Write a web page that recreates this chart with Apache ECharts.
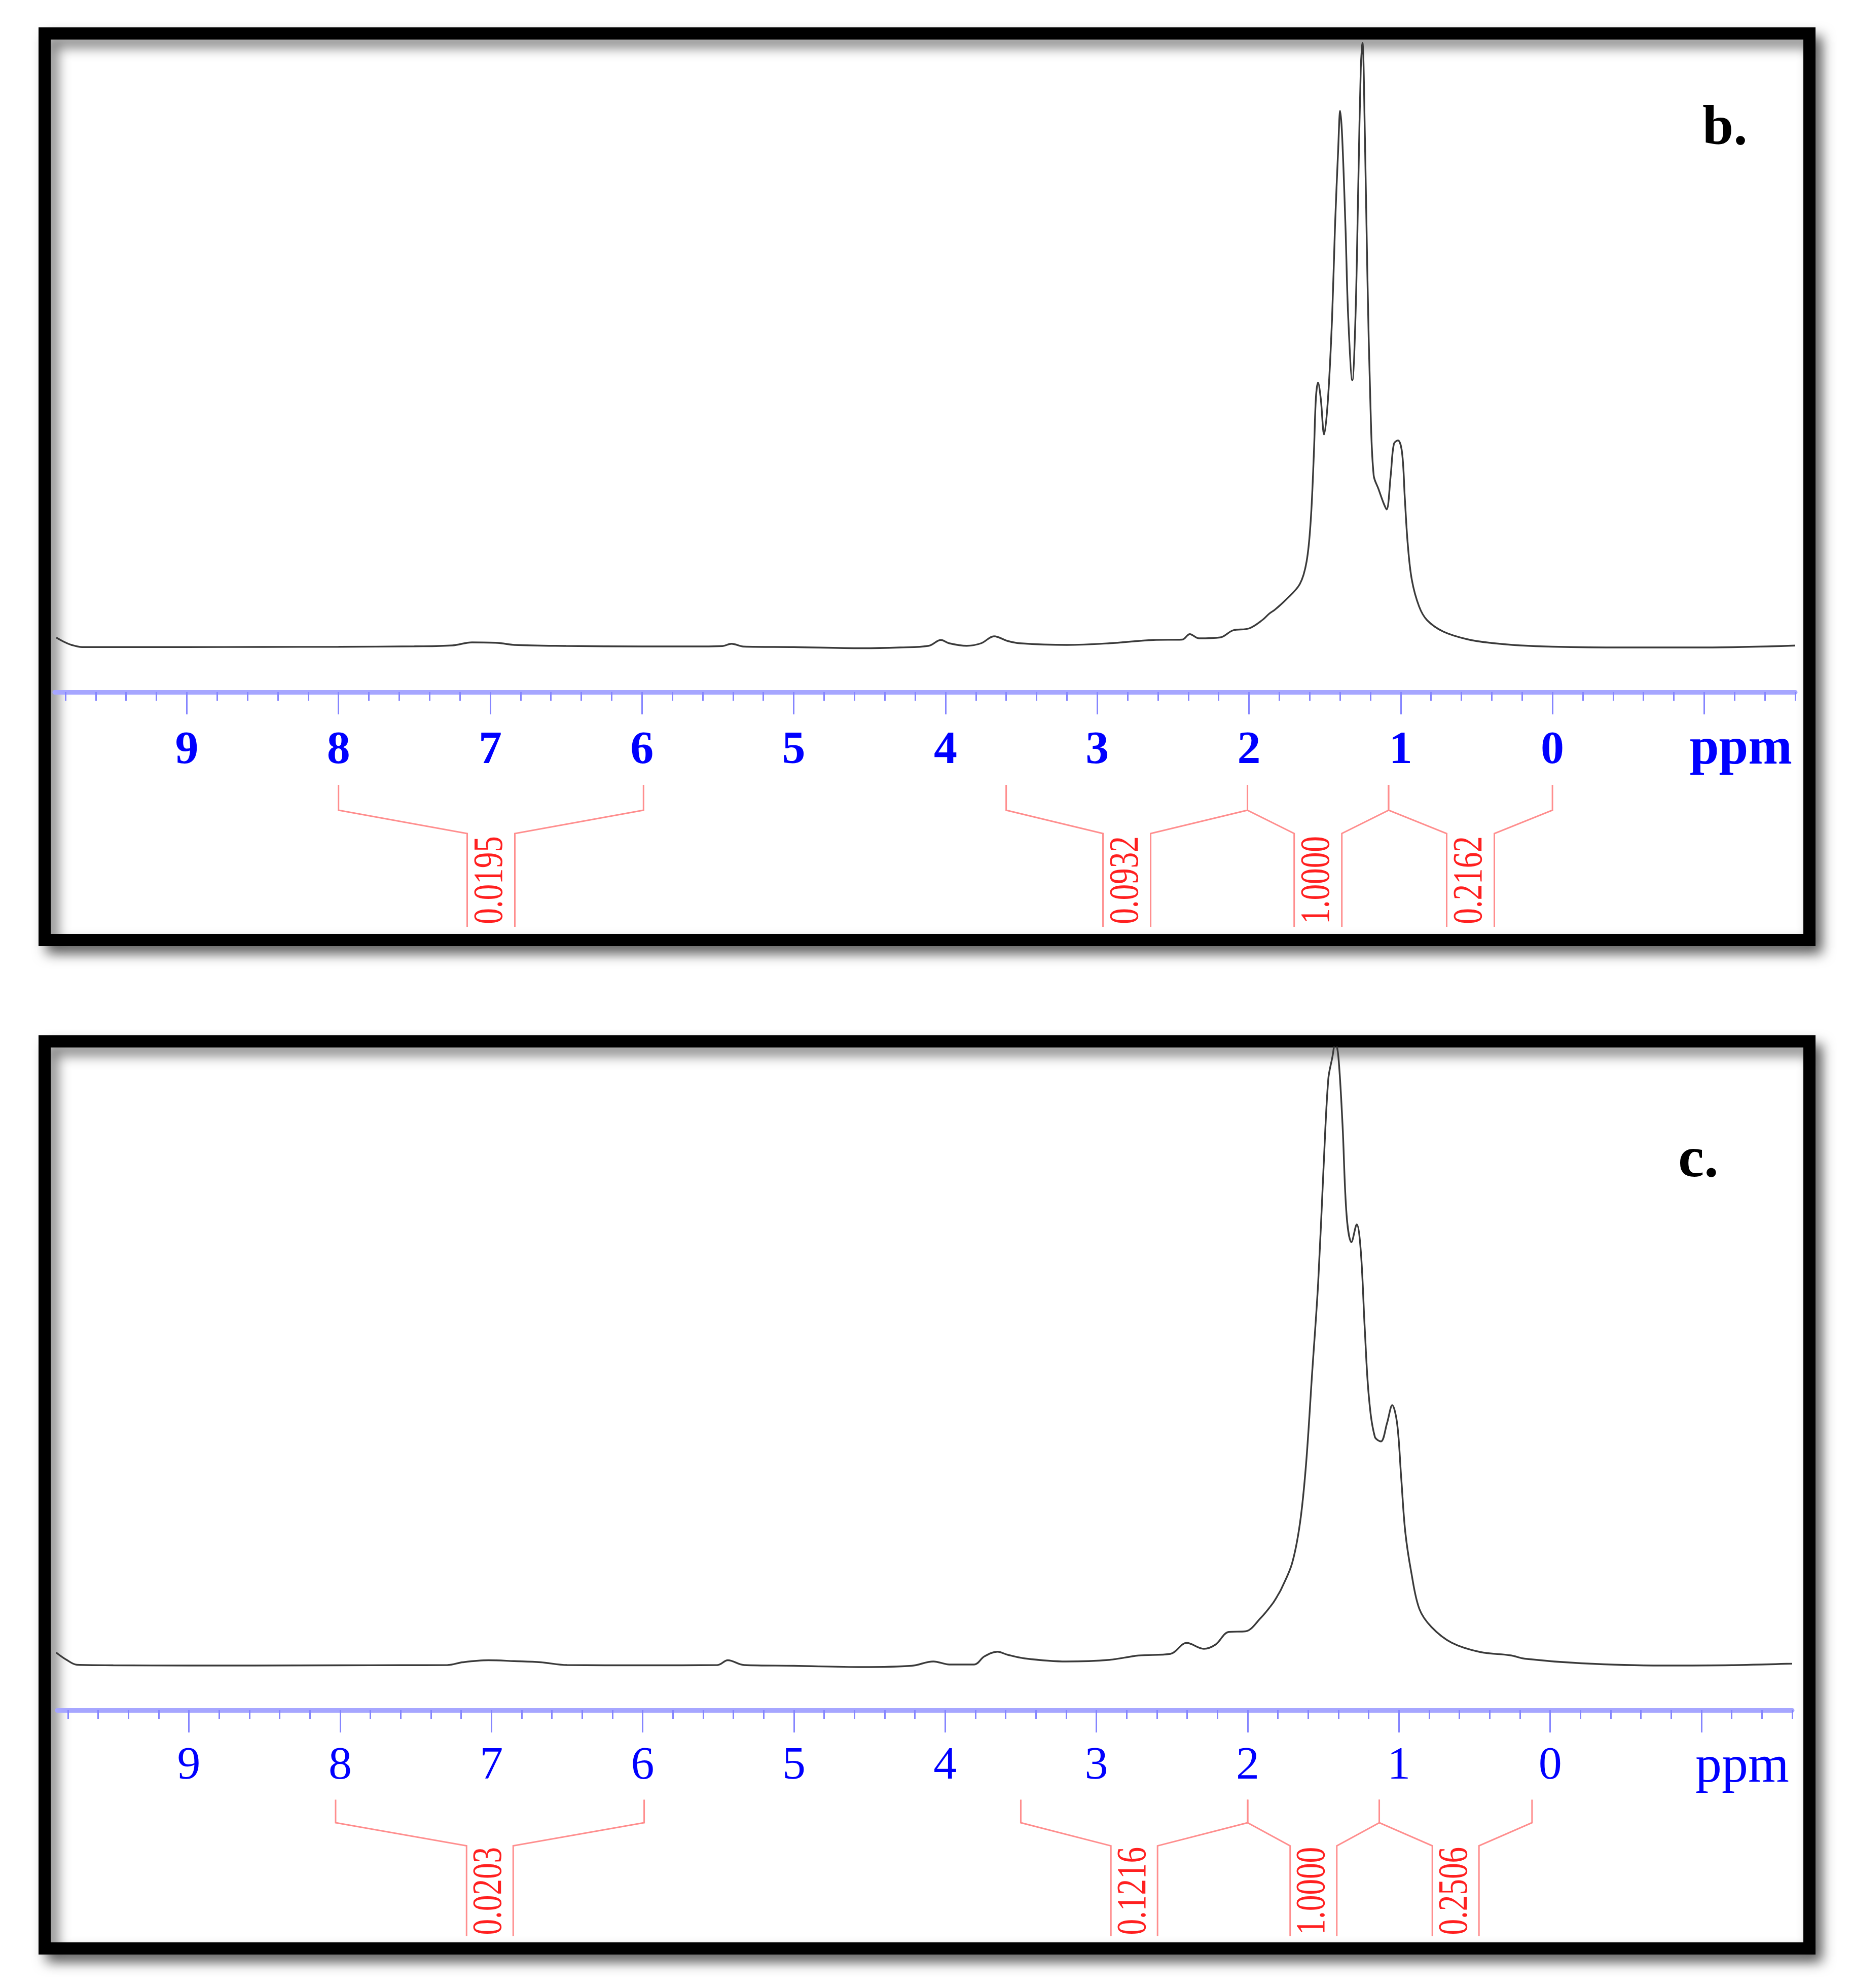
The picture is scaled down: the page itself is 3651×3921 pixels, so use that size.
<!DOCTYPE html>
<html>
<head>
<meta charset="utf-8">
<style>
  html, body { margin: 0; padding: 0; background: #ffffff; }
  #chart { width: 3651px; height: 3921px; }
</style>
<script src="https://cdn.jsdelivr.net/npm/echarts@6/dist/echarts.min.js"></script>
</head>
<body>
<div id="chart"></div>
<script>
// ---------- axis data ----------
const X_MIN = -1.6;
const X_MAX = 9.87;
const tickLabels = [9, 8, 7, 6, 5, 4, 3, 2, 1, 0];
const majorTicks = [9, 8, 7, 6, 5, 4, 3, 2, 1, 0, -1];
const minorTicks = [9.8, 9.6, 9.4, 9.2, 8.8, 8.6, 8.4, 8.2, 7.8, 7.6, 7.4, 7.2,
  6.8, 6.6, 6.4, 6.2, 5.8, 5.6, 5.4, 5.2, 4.8, 4.6, 4.4, 4.2, 3.8, 3.6, 3.4, 3.2,
  2.8, 2.6, 2.4, 2.2, 1.8, 1.6, 1.4, 1.2, 0.8, 0.6, 0.4, 0.2,
  -0.2, -0.4, -0.6, -0.8, -1.2, -1.4, -1.6];

// ---------- spectrum b ----------
const specB_ppm = [9.86, 9.81, 9.76, 9.69, 9.5, 9.0, 8.5, 8.0, 7.5, 7.25, 7.12, 6.95, 6.84, 6.5, 6.0, 5.6,
  5.47, 5.41, 5.33, 5.0, 4.55, 4.3, 4.11, 4.03, 3.976, 3.86, 3.765, 3.68, 3.59, 3.51, 3.2, 2.92,
  2.63, 2.44, 2.39, 2.33, 2.19, 2.105, 2.0, 1.91, 1.865, 1.83, 1.758, 1.665, 1.62, 1.593, 1.572,
  1.559, 1.545, 1.527, 1.505, 1.479, 1.452, 1.433, 1.412, 1.399, 1.386, 1.364, 1.346, 1.319,
  1.298, 1.279, 1.263, 1.252, 1.236, 1.22, 1.199, 1.178, 1.146, 1.114, 1.093, 1.066, 1.045,
  1.018, 0.991, 0.973, 0.954, 0.927, 0.879, 0.826, 0.719, 0.559, 0.4, 0.212, 0.0, -0.456,
  -1.0, -1.6];
const specB_int = [7.8, 4.5, 2.0, 0.3, 0.3, 0.3, 0.4, 0.5, 0.9, 1.6, 4.0, 3.6, 2.0, 1.2, 0.8, 0.8,
  1.1, 2.9, 0.7, 0.3, -0.6, 0.0, 1.3, 5.9, 3.3, 1.3, 3.3, 8.8, 5.1, 3.3, 2.0, 3.3,
  5.9, 6.2, 10.5, 7.2, 7.9, 13.5, 15.0, 21.8, 26.8, 29.7, 37.5, 50.0, 67.9, 100.0, 153.6,
  196.5, 209.0, 196.5, 168.0, 196.5, 260.8, 332.0, 393.0, 423.3, 403.6, 332.0, 260.8, 210.8,
  260.8, 368.0, 457.2, 476.9, 403.6, 296.5, 189.3, 135.7, 124.9, 114.2, 108.9, 135.7, 160.6,
  163.4, 153.6, 118.0, 82.2, 53.6, 32.4, 21.5, 12.5, 6.4, 3.5, 1.6, 0.6, 0.0,
  0.0, 1.5];

// ---------- spectrum c ----------
const specC_ppm = [9.878, 9.81, 9.74, 9.5, 9.0, 8.57, 8.0, 7.6, 7.29, 7.19, 7.02, 6.85, 6.675, 6.5, 6.0,
  5.505, 5.437, 5.33, 5.0, 4.549, 4.222, 4.078, 3.972, 3.808, 3.741, 3.654, 3.587, 3.473, 3.201,
  2.913, 2.722, 2.511, 2.404, 2.29, 2.213, 2.125, 2.015, 1.914, 1.837, 1.801, 1.777, 1.707,
  1.654, 1.614, 1.574, 1.534, 1.499, 1.467, 1.44, 1.42, 1.4, 1.373, 1.346, 1.314, 1.279, 1.252,
  1.226, 1.199, 1.159, 1.119, 1.079, 1.044, 1.012, 0.985, 0.958, 0.918, 0.865, 0.785, 0.651,
  0.464, 0.26, 0.169, -0.205, -0.74, -1.2, -1.6];
const specC_int = [10.3, 4.6, 0.6, 0.2, 0.0, 0.0, 0.2, 0.3, 0.4, 2.6, 4.2, 3.5, 2.6, 0.4, 0.2,
  0.4, 4.2, 0.4, -0.2, -1.2, -0.2, 3.2, 0.8, 0.8, 7.2, 10.9, 8.5, 5.6, 3.2,
  4.5, 7.9, 9.2, 17.9, 13.2, 16.5, 26.5, 27.0, 37.5, 48.6, 55.4, 60.6, 80.4,
  112.5, 158.9, 230.4, 301.8, 391.0, 462.6, 480.0, 492.0, 480.0, 427.0, 355.4, 334.0, 348.0, 326.8,
  266.0, 212.5, 180.4, 176.8, 191.1, 205.4, 191.1, 148.3, 105.4, 73.3, 44.7, 30.4, 18.0,
  10.7, 8.0, 5.4, 1.8, 0.0, 0.3, 1.5];

// ---------- integrations ----------
const integB_from = [8.0, 3.6, 2.01, 1.08];
const integB_to = [5.99, 2.01, 1.08, 0.0];
const integB_labels = ['0.0195', '0.0932', '1.0000', '0.2162'];
const integC_from = [8.03, 3.5, 2.0, 1.13];
const integC_to = [5.99, 2.0, 1.13, 0.12];
const integC_labels = ['0.0203', '0.1216', '1.0000', '0.2506'];

// ---------- helpers ----------
const SERIF = '"Liberation Serif", "Times New Roman", serif';
const zip = (a, b) => a.map((v, i) => [v, b[i]]);
const integData = (from, to) => from.map((f, i) => [f, to[i], i]);

function mainAxis(gridIndex, bold, labelMargin, namePad) {
  return {
    type: 'value', gridIndex: gridIndex, inverse: true, min: X_MIN, max: X_MAX, position: 'bottom',
    name: 'ppm', nameLocation: 'start', nameGap: -6,
    nameTextStyle: {
      color: '#0000ff', fontFamily: SERIF, fontSize: 104, fontWeight: bold ? 'bold' : 'normal',
      align: 'right', verticalAlign: 'top', padding: [namePad, 0, 0, 0]
    },
    axisLine: { show: true, onZero: false, lineStyle: { color: '#a6a6ff', width: 9 } },
    axisTick: { show: true, customValues: majorTicks, length: 44, lineStyle: { color: '#8585ff', width: 3 } },
    axisLabel: {
      show: true, customValues: tickLabels, margin: labelMargin, color: '#0000ff',
      fontFamily: SERIF, fontSize: 92, fontWeight: bold ? 'bold' : 'normal', hideOverlap: false
    },
    splitLine: { show: false }, minorTick: { show: false }
  };
}
function minorAxis(gridIndex) {
  return {
    type: 'value', gridIndex: gridIndex, inverse: true, min: X_MIN, max: X_MAX, position: 'bottom',
    axisLine: { show: false, onZero: false },
    axisTick: { show: true, customValues: minorTicks, length: 17, lineStyle: { color: '#8585ff', width: 3 } },
    axisLabel: { show: false }, splitLine: { show: false }
  };
}
function bracketRenderer(geo, labels) {
  return function (params, api) {
    const idx = api.value(2);
    const xa = api.coord([api.value(0), 0])[0];
    const xb = api.coord([api.value(1), 0])[0];
    const cs = params.coordSys;
    const base = cs.y + cs.height;
    const xm = (xa + xb) / 2;
    const yt = base + geo.top, yb = base + geo.bend, yi = base + geo.inner, ye = base + geo.bottom;
    const ls = { stroke: '#ff8e8e', lineWidth: 3, fill: null };
    return {
      type: 'group',
      children: [
        { type: 'polyline', shape: { points: [[xa, yt], [xa, yb], [xm - geo.half, yi], [xm - geo.half, ye]] }, style: ls },
        { type: 'polyline', shape: { points: [[xb, yt], [xb, yb], [xm + geo.half, yi], [xm + geo.half, ye]] }, style: ls },
        {
          type: 'text', x: xm, y: (yi + ye) / 2, rotation: Math.PI / 2, scaleX: 0.77, scaleY: 1,
          style: { text: labels[idx], fill: '#ff2020', font: 'normal 82px ' + SERIF, align: 'center', verticalAlign: 'middle' }
        }
      ]
    };
  };
}

const geoB = { top: 183, bend: 233, inner: 279, bottom: 463, half: 47 };
const geoC = { top: 176.5, bend: 222, inner: 267.6, bottom: 445.8, half: 46 };

const lineStyle = { color: '#3a3a3a', width: 3.4 };

const option = {
  animation: false,
  backgroundColor: '#ffffff',
  graphic: [
    {
      type: 'rect', z: -10, shape: { x: 88, y: 66, width: 3481, height: 1788 },
      style: { fill: '#ffffff', stroke: '#000000', lineWidth: 24, shadowBlur: 24, shadowColor: 'rgba(0,0,0,0.5)', shadowOffsetX: 14, shadowOffsetY: 16 }
    },
    {
      type: 'rect', z: -10, shape: { x: 88, y: 2054, width: 3481, height: 1789 },
      style: { fill: '#ffffff', stroke: '#000000', lineWidth: 24, shadowBlur: 24, shadowColor: 'rgba(0,0,0,0.5)', shadowOffsetX: 14, shadowOffsetY: 16 }
    },
    {
      type: 'text', x: 3358, y: 256, z: 10,
      style: { text: 'b.', fill: '#000000', font: 'bold 110px ' + SERIF, align: 'left', verticalAlign: 'middle' }
    },
    {
      type: 'text', x: 3310, y: 2290, z: 10,
      style: { text: 'c.', fill: '#000000', font: 'bold 115px ' + SERIF, align: 'left', verticalAlign: 'middle' }
    }
  ],
  grid: [
    { left: 108, top: 79, width: 3433, height: 1286 },
    { left: 113, top: 2066, width: 3422, height: 1307 }
  ],
  xAxis: [
    mainAxis(0, true, 70, 62),
    minorAxis(0),
    mainAxis(1, false, 65, 62),
    minorAxis(1)
  ],
  yAxis: [
    { type: 'value', gridIndex: 0, min: -35.2, max: 479.2, show: false },
    { type: 'value', gridIndex: 1, min: -35.2, max: 487.6, show: false }
  ],
  series: [
    {
      name: 'b', type: 'line', xAxisIndex: 0, yAxisIndex: 0, data: zip(specB_ppm, specB_int),
      showSymbol: false, smooth: 0.35, lineStyle: lineStyle, clip: true, silent: true
    },
    {
      name: 'c', type: 'line', xAxisIndex: 2, yAxisIndex: 1, data: zip(specC_ppm, specC_int),
      showSymbol: false, smooth: 0.35, lineStyle: lineStyle, clip: true, silent: true
    },
    {
      name: 'integrals b', type: 'custom', xAxisIndex: 0, yAxisIndex: 0,
      data: integData(integB_from, integB_to), encode: { x: [0, 1], y: 2 },
      renderItem: bracketRenderer(geoB, integB_labels), silent: true, clip: false
    },
    {
      name: 'integrals c', type: 'custom', xAxisIndex: 2, yAxisIndex: 1,
      data: integData(integC_from, integC_to), encode: { x: [0, 1], y: 2 },
      renderItem: bracketRenderer(geoC, integC_labels), silent: true, clip: false
    }
  ]
};

const chart = echarts.init(document.getElementById('chart'), null, { renderer: 'canvas', width: 3651, height: 3921 });
chart.setOption(option);
</script>
</body>
</html>
